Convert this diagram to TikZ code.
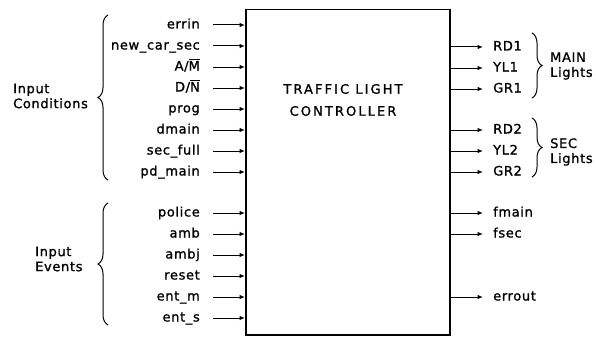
\documentclass[tikz,border=0pt]{standalone}
\usepackage{fontspec}
\setmainfont{DejaVu Sans}[LetterSpace=5,FakeBold=1.2]
\usetikzlibrary{arrows.meta,decorations.pathreplacing}
\begin{document}
\begin{tikzpicture}[x=1pt,y=-1pt,
  lab/.style={font=\fontsize{13}{15}\selectfont, inner sep=0pt, text height=7pt, text depth=0pt},
  grp/.style={font=\fontsize{13}{15}\selectfont, inner sep=0pt, align=left, anchor=west},
  sig/.style={line width=1pt, -{Latex[length=5.5pt,width=4.5pt]}},
  brc/.style={decorate, decoration={brace, amplitude=10pt}, line width=1pt}]
\useasboundingbox (0,0) rectangle (596,337);
\node[draw, line width=1.5pt, minimum width=204pt, minimum height=325pt, anchor=north west, inner sep=0pt] (box) at (245,9) {};
\node[font=\fontsize{13}{22}\selectfont\addfontfeature{LetterSpace=16}, align=center, inner sep=0pt] (title) at (343,100) {TRAFFIC LIGHT\\CONTROLLER};
% inputs
\foreach \n/\t/\y in {errin/{errin}/25, ncs/{new\_car\_sec}/46, am/{A/$\overline{\hbox{M}}$}/67, dn/{D/$\overline{\hbox{N}}$}/88, prog/{prog}/109, dmain/{dmain}/130, secfull/{sec\_full}/151, pdmain/{pd\_main}/172, police/{police}/213, amb/{amb}/234, ambj/{ambj}/255, reset/{reset}/276, entm/{ent\_m}/297, ents/{ent\_s}/318}
{
  \node[lab, anchor=east] (\n) at (200,\y) {\t};
  \draw[sig] ([xshift=13pt]\n.east) -- (\n.east -| box.west);
}
% outputs
\foreach \n/\t/\y in {rd1/RD1/47, yl1/YL1/68, gr1/GR1/89, rd2/RD2/130, yl2/YL2/151, gr2/GR2/172, fmain/fmain/213, fsec/fsec/234, errout/errout/297}
{
  \node[lab, anchor=west] (\n) at (493,\y) {\t};
  \draw[sig] (\n.west -| box.east) -- ([xshift=-10pt]\n.west);
}
% braces and group labels
\draw[brc] (108,180) -- (108,15);
\node[grp] (ic) at (13,96) {Input\\Conditions};
\draw[brc] (108,325) -- (108,203);
\node[grp] (ie) at (35,259) {Input\\Events};
\draw[brc] (532,33) -- (532,98);
\node[grp] (ml) at (550,66) {MAIN\\Lights};
\draw[brc] (532,118) -- (532,177);
\node[grp] (sl) at (550,152) {SEC\\Lights};
\end{tikzpicture}
\end{document}
